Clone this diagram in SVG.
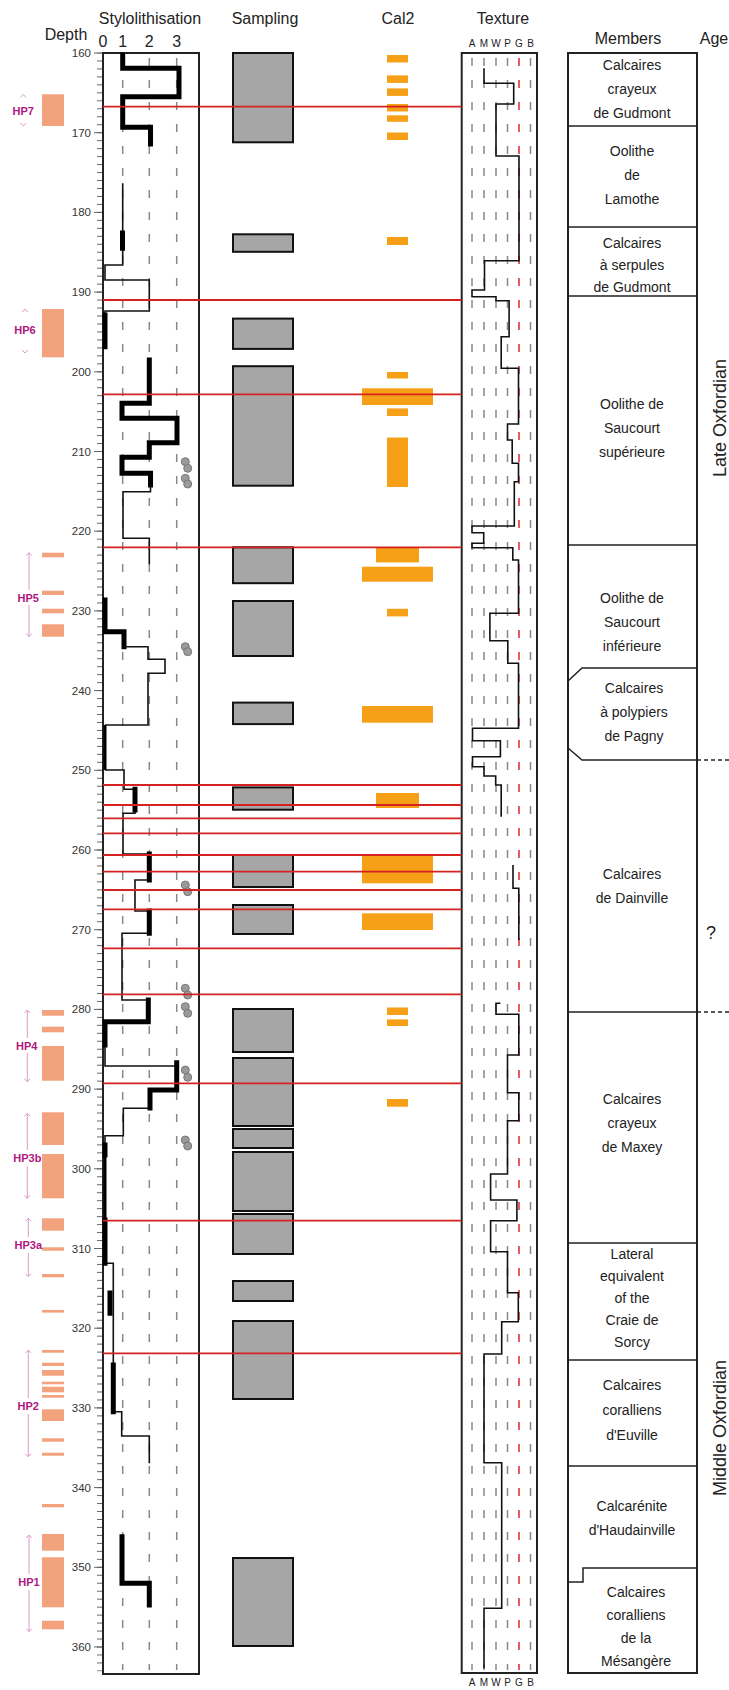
<svg xmlns="http://www.w3.org/2000/svg" width="729" height="1690" viewBox="0 0 729 1690">
<style>
text{font-family:"Liberation Sans",Arial,sans-serif;fill:#222}
.hd{font-size:16px}
.dl{font-size:11.5px;fill:#333;text-anchor:end}
.mb{font-size:14px;text-anchor:middle}
.hp{font-size:11px;font-weight:bold;fill:#B0177E;text-anchor:middle}
.box{fill:none;stroke:#222;stroke-width:2}
.gd{stroke:#888;stroke-width:1.5;stroke-dasharray:8 14;fill:none}
.rd{stroke:#E02828;stroke-width:1.5;stroke-dasharray:8 14;fill:none}
.red{stroke:#D42222;stroke-width:1.8}
.thk{fill:none;stroke:#000;stroke-width:5;stroke-linecap:square}
.thn{fill:none;stroke:#111;stroke-width:1.6}
.smp{fill:#A6A6A6;stroke:#111;stroke-width:2}
.cal{fill:#F5A016}
.hpb{fill:#F2A27C}
.arw{fill:none;stroke:#D99BC6;stroke-width:1}
.dot{fill:#9A9A9A;stroke:#777;stroke-width:1}
.tx{fill:none;stroke:#111;stroke-width:1.6}
.ln{fill:none;stroke:#222;stroke-width:1.5}
</style>
<defs>
<pattern id="tk" x="0" y="52.5" width="10" height="7.97" patternUnits="userSpaceOnUse"><rect x="0" y="0" width="10" height="1" fill="#666"/></pattern>
</defs>

<g id="header">
<text class="hd" x="150" y="24" text-anchor="middle">Stylolithisation</text>
<text class="hd" x="265" y="24" text-anchor="middle">Sampling</text>
<text class="hd" x="398" y="24" text-anchor="middle">Cal2</text>
<text class="hd" x="503" y="24" text-anchor="middle">Texture</text>
<text class="hd" x="66" y="40" text-anchor="middle">Depth</text>
<text class="hd" x="103" y="47" text-anchor="middle">0</text>
<text class="hd" x="122.7" y="47" text-anchor="middle">1</text>
<text class="hd" x="149.3" y="47" text-anchor="middle">2</text>
<text class="hd" x="176.7" y="47" text-anchor="middle">3</text>
<g font-size="10" text-anchor="middle">
<text x="472" y="47">A</text><text x="484" y="47">M</text><text x="496" y="47">W</text><text x="507.5" y="47">P</text><text x="519" y="47">G</text><text x="530.5" y="47">B</text>
</g>
<text class="hd" x="628" y="44" text-anchor="middle">Members</text>
<text class="hd" x="714" y="44" text-anchor="middle">Age</text>
</g>

<g id="depth-axis">
<rect x="97" y="52.5" width="5" height="1619" fill="url(#tk)"/>
<path d="M94,53h8M94,132.7h8M94,212.4h8M94,292.1h8M94,371.8h8M94,451.5h8M94,531.2h8M94,610.9h8M94,690.6h8M94,770.3h8M94,850h8M94,929.7h8M94,1009.4h8M94,1089.1h8M94,1168.8h8M94,1248.5h8M94,1328.2h8M94,1407.9h8M94,1487.6h8M94,1567.3h8M94,1647h8" stroke="#666" stroke-width="1"/>
<text class="dl" x="91" y="57">160</text><text class="dl" x="91" y="136.7">170</text><text class="dl" x="91" y="216.4">180</text><text class="dl" x="91" y="296.1">190</text><text class="dl" x="91" y="375.8">200</text><text class="dl" x="91" y="455.5">210</text><text class="dl" x="91" y="535.2">220</text><text class="dl" x="91" y="614.9">230</text><text class="dl" x="91" y="694.6">240</text><text class="dl" x="91" y="774.3">250</text><text class="dl" x="91" y="854">260</text><text class="dl" x="91" y="933.7">270</text><text class="dl" x="91" y="1013.4">280</text><text class="dl" x="91" y="1093.1">290</text><text class="dl" x="91" y="1172.8">300</text><text class="dl" x="91" y="1252.5">310</text><text class="dl" x="91" y="1332.2">320</text><text class="dl" x="91" y="1411.9">330</text><text class="dl" x="91" y="1491.6">340</text><text class="dl" x="91" y="1571.3">350</text><text class="dl" x="91" y="1651">360</text>
</g>

<g id="hp-intervals">
<rect class="hpb" x="42" y="94.3" width="22" height="31.7"/>
<rect class="hpb" x="42" y="309" width="22" height="48.3"/>
<rect class="hpb" x="42" y="552.7" width="22" height="4.6"/><rect class="hpb" x="42" y="590.7" width="22" height="4.3"/><rect class="hpb" x="42" y="608.7" width="22" height="4.6"/><rect class="hpb" x="42" y="624.3" width="22" height="12.4"/>
<rect class="hpb" x="42" y="1010" width="22" height="5.7"/><rect class="hpb" x="42" y="1026.7" width="22" height="5.6"/><rect class="hpb" x="42" y="1046" width="22" height="34.7"/>
<rect class="hpb" x="42" y="1112.3" width="22" height="32.7"/><rect class="hpb" x="42" y="1154" width="22" height="44.3"/>
<rect class="hpb" x="42" y="1218.3" width="22" height="12.4"/><rect class="hpb" x="42" y="1247.3" width="22" height="3.4"/><rect class="hpb" x="42" y="1274" width="22" height="3.3"/>
<rect class="hpb" x="42" y="1310" width="22" height="2.6"/>
<rect class="hpb" x="42" y="1350" width="22" height="2.7"/><rect class="hpb" x="42" y="1362.7" width="22" height="3.3"/><rect class="hpb" x="42" y="1370" width="22" height="5.7"/><rect class="hpb" x="42" y="1381.7" width="22" height="2.6"/><rect class="hpb" x="42" y="1386.7" width="22" height="5.6"/><rect class="hpb" x="42" y="1395" width="22" height="2.7"/><rect class="hpb" x="42" y="1409.3" width="22" height="11.7"/><rect class="hpb" x="42" y="1438.3" width="22" height="3.4"/><rect class="hpb" x="42" y="1452.7" width="22" height="3"/>
<rect class="hpb" x="42" y="1504" width="22" height="3.3"/>
<rect class="hpb" x="42" y="1534" width="22" height="16.7"/><rect class="hpb" x="42" y="1557.3" width="22" height="50"/><rect class="hpb" x="42" y="1620.7" width="22" height="8.6"/>
</g>

<g id="hp-labels">
<path class="arw" d="M20.5,97.5l2.8,-3l2.8,3M20.5,123l2.8,3l2.8,-3"/>
<text class="hp" x="23.3" y="114.5">HP7</text>
<path class="arw" d="M22.2,312l2.8,-3l2.8,3M22.2,350l2.8,3l2.8,-3"/>
<text class="hp" x="25" y="334">HP6</text>
<path class="arw" d="M29,552.7V590M29,605V636.7M26.2,555.7l2.8,-3l2.8,3M26.2,633.7l2.8,3l2.8,-3"/>
<text class="hp" x="28.3" y="601.5">HP5</text>
<path class="arw" d="M27.3,1010V1038M27.3,1053V1081.7M24.5,1013l2.8,-3l2.8,3M24.5,1078.7l2.8,3l2.8,-3"/>
<text class="hp" x="26.7" y="1050">HP4</text>
<path class="arw" d="M27.3,1113.3V1150M27.3,1166V1198.3M24.5,1116.3l2.8,-3l2.8,3M24.5,1195.3l2.8,3l2.8,-3"/>
<text class="hp" x="27.3" y="1162.3">HP3b</text>
<path class="arw" d="M28.3,1218.3V1237M28.3,1253V1276.7M25.5,1221.3l2.8,-3l2.8,3M25.5,1273.7l2.8,3l2.8,-3"/>
<text class="hp" x="28.3" y="1249">HP3a</text>
<path class="arw" d="M28.3,1350V1398M28.3,1414V1456.7M25.5,1353l2.8,-3l2.8,3M25.5,1453.7l2.8,3l2.8,-3"/>
<text class="hp" x="28.3" y="1410">HP2</text>
<path class="arw" d="M29,1535V1574M29,1590V1631.7M26.2,1538l2.8,-3l2.8,3M26.2,1628.7l2.8,3l2.8,-3"/>
<text class="hp" x="29" y="1585.7">HP1</text>
</g>

<g id="stylolithisation">
<rect class="box" x="103" y="53" width="96" height="1621"/>
<path class="gd" d="M122.7,58V1670M149.3,58V1670M176.7,58V1670"/>
<path class="thk" d="M122.7,55V68.3H179V96.7H122.7V127.3H150.5V144"/>
<path class="thn" d="M122.7,183.3V265H105V280H149.3V311H105V315"/>
<path class="thk" d="M122.5,233V248.3M105,315V346.7"/>
<path class="thk" d="M149.3,360V403.3H122V418.3H177V442.7H149.3V457.3H122V473.3H150.5V485"/>
<path class="thn" d="M150.5,485V491.7H123V538.3H149.3V564.3"/>
<path class="thk" d="M105,600V631.7H124V646.7"/>
<path class="thn" d="M124,646.7H148V659.3H165V673.3H148V725H105"/>
<path d="M105,725V770" stroke="#000" stroke-width="3"/>
<path class="thn" d="M105,770H124V789.3H135M135,810V813.3H123V854H149.3M149.3,880H135V911H149.3M149.3,933.3H122V1000H148.3M105,1045V1066H176.7M150,1108.3H123.3V1135.7H105V1145M105,1263.3H113.3V1365M113.3,1411.7H121.7V1436H149.3V1463.3"/>
<path class="thk" d="M135,789.3V810M149.3,854V880M149.3,911V933.3M148.3,1000V1021.7H105V1045M176.7,1062.7V1090H150V1108M105,1145V1155M105,1220V1263.3M110,1293V1313.3M113.3,1365V1411.7"/>
<path d="M105,1155V1220" stroke="#000" stroke-width="3"/>
<path class="thk" d="M122,1536.7V1583.3H149.3V1605"/>
<g class="dot">
<circle cx="185.3" cy="461.7" r="4"/><circle cx="187.7" cy="468.3" r="4"/><circle cx="185.3" cy="478.3" r="4"/><circle cx="187.7" cy="484" r="4"/>
<circle cx="185.3" cy="646.7" r="4"/><circle cx="187.7" cy="651.7" r="4"/>
<circle cx="185.3" cy="885" r="4"/><circle cx="187.7" cy="891.7" r="4"/>
<circle cx="185.3" cy="988.3" r="4"/><circle cx="187.7" cy="995" r="4"/>
<circle cx="185.3" cy="1006.7" r="4"/><circle cx="187.7" cy="1013.3" r="4"/>
<circle cx="185.3" cy="1070" r="4"/><circle cx="187.7" cy="1077.3" r="4"/>
<circle cx="185.3" cy="1140" r="4"/><circle cx="187.7" cy="1146" r="4"/>
</g>
</g>

<g id="sampling">
<rect class="smp" x="233" y="53" width="60" height="89.3"/>
<rect class="smp" x="233" y="234.3" width="60" height="17.5"/>
<rect class="smp" x="233" y="318.6" width="60" height="30.3"/>
<rect class="smp" x="233" y="366.2" width="60" height="119.5"/>
<rect class="smp" x="233" y="547.3" width="60" height="35.9"/>
<rect class="smp" x="233" y="601" width="60" height="55"/>
<rect class="smp" x="233" y="702.6" width="60" height="21.5"/>
<rect class="smp" x="233" y="787.4" width="60" height="22.3"/>
<rect class="smp" x="233" y="855" width="60" height="32"/>
<rect class="smp" x="233" y="905" width="60" height="29"/>
<rect class="smp" x="233" y="1009" width="60" height="43"/>
<rect class="smp" x="233" y="1058" width="60" height="68"/>
<rect class="smp" x="233" y="1129" width="60" height="19"/>
<rect class="smp" x="233" y="1152" width="60" height="59"/>
<rect class="smp" x="233" y="1214" width="60" height="40"/>
<rect class="smp" x="233" y="1281" width="60" height="20"/>
<rect class="smp" x="233" y="1321" width="60" height="78"/>
<rect class="smp" x="233" y="1558" width="60" height="88"/>
</g>

<g id="cal2">
<rect class="cal" x="387" y="55" width="21" height="7.5"/>
<rect class="cal" x="387" y="75.4" width="21" height="7.5"/>
<rect class="cal" x="387" y="88.4" width="21" height="7.5"/>
<rect class="cal" x="387" y="104" width="21" height="7.5"/>
<rect class="cal" x="387" y="115.3" width="21" height="6.5"/>
<rect class="cal" x="387" y="132.5" width="21" height="7.5"/>
<rect class="cal" x="387" y="237" width="21" height="8"/>
<rect class="cal" x="387" y="372" width="21" height="6.5"/>
<rect class="cal" x="362" y="388.3" width="71" height="16.7"/>
<rect class="cal" x="387" y="408.4" width="21" height="7.6"/>
<rect class="cal" x="387" y="437.5" width="21" height="49.5"/>
<rect class="cal" x="376" y="547.4" width="43" height="15"/>
<rect class="cal" x="362" y="566.7" width="71" height="15"/>
<rect class="cal" x="387" y="608.8" width="21" height="7.6"/>
<rect class="cal" x="362" y="706" width="71" height="16.7"/>
<rect class="cal" x="376" y="793" width="43" height="15"/>
<rect class="cal" x="362" y="855" width="71" height="28.3"/>
<rect class="cal" x="362" y="913.3" width="71" height="16.7"/>
<rect class="cal" x="387" y="1007.5" width="21" height="7.5"/>
<rect class="cal" x="387" y="1019.4" width="21" height="6.6"/>
<rect class="cal" x="387" y="1099" width="21" height="7.7"/>
</g>

<g id="texture">
<rect class="box" x="461.7" y="53" width="75.3" height="1620"/>
<path class="gd" d="M472,58V1670M484,58V1670M496,58V1670M507.5,58V1670M530.5,58V1670"/>
<path class="rd" d="M519,58V1670"/>
<path class="tx" d="M484,68.3V83.3H513.7V104H496V156H519V260.7H484.5V290H472V296.7H496V300.7H509.1V336.7H501.2V368.3H518.5V424H507.5V440H512.2V463.3H518.5V481.7H514.3V526H472V532.7H483.7V543.3H472V547.7H512.8V560H518.5V613.3H489.9V640.7H507.8V663.3H518.5V728.3H472.5V740.7H500.4V756.7H472.5V766.7H484V776H495.7V785H501.2V816.7"/>
<path class="tx" d="M513,865V888.3H518.8V940"/>
<path class="tx" d="M500.4,1003.3H496V1014.3H518.8V1055H507.5V1092.7H518.8V1120.7H507.5V1174H490.6V1200H516.9V1220.7H490.6V1251.7H507.5V1292.7H518.3V1321.7H501.7V1354H484V1462.7H501.7V1608.3H484V1668.3"/>
<g font-size="10" text-anchor="middle">
<text x="472" y="1686">A</text><text x="484" y="1686">M</text><text x="496" y="1686">W</text><text x="507.5" y="1686">P</text><text x="519" y="1686">G</text><text x="530.5" y="1686">B</text>
</g>
</g>

<g id="boundaries">
<path class="red" d="M103,106.7H461.7M103,300H461.7M103,394.3H461.7M103,547.3H461.7M103,785H461.7M103,805H461.7M103,818.3H461.7M103,833.3H461.7M103,855H461.7M103,871.7H461.7M103,890H461.7M103,909.3H461.7M103,948.3H461.7M103,994.3H461.7M103,1083.3H461.7M103,1220.7H461.7M103,1353.3H461.7"/>
</g>

<g id="members">
<rect class="box" x="568" y="53" width="129" height="1620"/>
<path class="ln" d="M568,126H697M568,227H697M568,296H697M568,545H697M568,1012H697M568,1243H697M568,1360H697M568,1466H697"/>
<path class="ln" d="M568,681L582,668H697M568,748L582,760H697M568,1582H583V1568H697"/>
<text class="mb"><tspan x="632" y="70">Calcaires</tspan><tspan x="632" y="94">crayeux</tspan><tspan x="632" y="118">de Gudmont</tspan></text>
<text class="mb"><tspan x="632" y="156">Oolithe</tspan><tspan x="632" y="180">de</tspan><tspan x="632" y="204">Lamothe</tspan></text>
<text class="mb"><tspan x="632" y="248">Calcaires</tspan><tspan x="632" y="270">à serpules</tspan><tspan x="632" y="292">de Gudmont</tspan></text>
<text class="mb"><tspan x="632" y="409">Oolithe de</tspan><tspan x="632" y="433">Saucourt</tspan><tspan x="632" y="457">supérieure</tspan></text>
<text class="mb"><tspan x="632" y="603">Oolithe de</tspan><tspan x="632" y="627">Saucourt</tspan><tspan x="632" y="651">inférieure</tspan></text>
<text class="mb"><tspan x="634" y="693">Calcaires</tspan><tspan x="634" y="717">à polypiers</tspan><tspan x="634" y="741">de Pagny</tspan></text>
<text class="mb"><tspan x="632" y="879">Calcaires</tspan><tspan x="632" y="903">de Dainville</tspan></text>
<text class="mb"><tspan x="632" y="1104">Calcaires</tspan><tspan x="632" y="1128">crayeux</tspan><tspan x="632" y="1152">de Maxey</tspan></text>
<text class="mb"><tspan x="632" y="1259">Lateral</tspan><tspan x="632" y="1281">equivalent</tspan><tspan x="632" y="1303">of the</tspan><tspan x="632" y="1325">Craie de</tspan><tspan x="632" y="1347">Sorcy</tspan></text>
<text class="mb"><tspan x="632" y="1390">Calcaires</tspan><tspan x="632" y="1415">coralliens</tspan><tspan x="632" y="1440">d'Euville</tspan></text>
<text class="mb" font-size="13"><tspan x="632" y="1511">Calcarénite</tspan><tspan x="632" y="1535">d'Haudainville</tspan></text>
<text class="mb"><tspan x="636" y="1597">Calcaires</tspan><tspan x="636" y="1620">coralliens</tspan><tspan x="636" y="1643">de la</tspan><tspan x="636" y="1666">Mésangère</tspan></text>
</g>

<g id="age">
<path d="M697,760H729M697,1012H729" stroke="#222" stroke-width="1.5" stroke-dasharray="4 3"/>
<text font-size="18" transform="translate(726,418) rotate(-90)" text-anchor="middle">Late Oxfordian</text>
<text font-size="18" x="711" y="939" text-anchor="middle">?</text>
<text font-size="18" transform="translate(726,1428) rotate(-90)" text-anchor="middle">Middle Oxfordian</text>
</g>
</svg>
